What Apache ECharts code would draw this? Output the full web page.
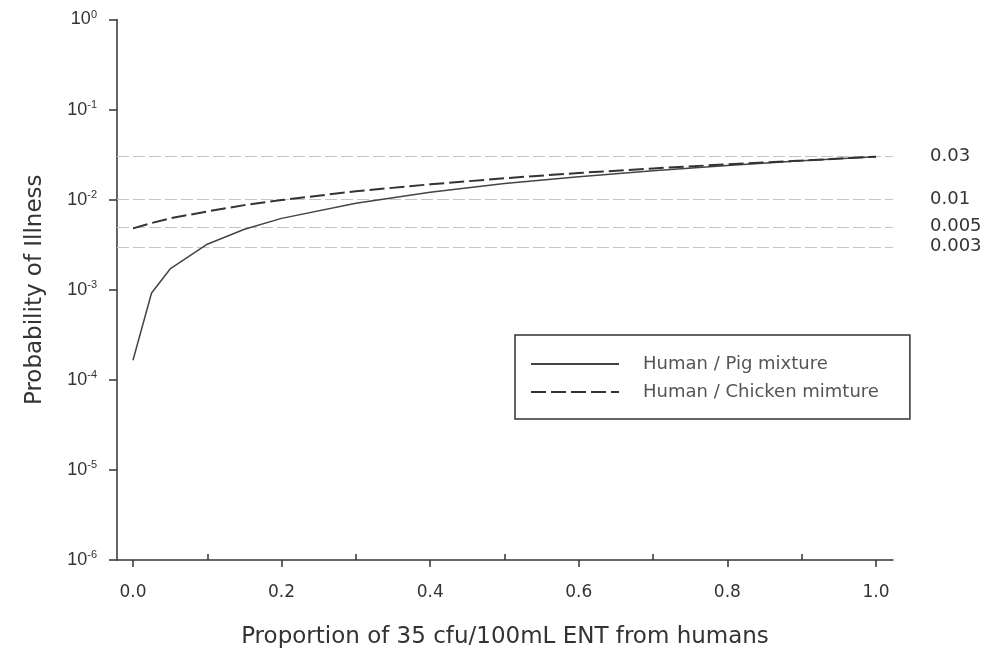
<!DOCTYPE html>
<html lang="en">

<head>
  <meta charset="UTF-8">
  <title>probability of illness</title>
  <script src="https://cdn.jsdelivr.net/npm/echarts@6.0.0/dist/echarts.min.js"></script>
  <style>
    html, body { margin: 0; padding: 0; background: #fff; }
    #chart { width: 989px; height: 651px; }
  </style>
</head>

<body>
  <div id="chart"></div>
  <script>
    // proportion of ENT from humans
    let props = [0, 0.025, 0.05, 0.1, 0.15, 0.2, 0.3, 0.4, 0.5, 0.6, 0.7, 0.8, 0.9, 1.0];
    let pigRisk = [0.000165, 0.00092, 0.0017, 0.0032, 0.0047, 0.0062, 0.0091, 0.0121, 0.0151, 0.018, 0.021, 0.024, 0.027, 0.030];
    let chickenRisk = [0.0048, 0.0055, 0.0062, 0.0074, 0.0087, 0.0099, 0.0124, 0.0148, 0.0173, 0.0198, 0.0222, 0.0247, 0.0272, 0.030];
    let refLevels = [0.03, 0.01, 0.005, 0.003];
    let xMajor = [0, 0.2, 0.4, 0.6, 0.8, 1.0];
    let xMinor = [0.1, 0.3, 0.5, 0.7, 0.9];
    let names = ['Human / Pig mixture', 'Human / Chicken mimture'];

    let font = 'Liberation Sans, Arial, sans-serif';
    let wide = 'DejaVu Sans, sans-serif';
    let ink = '#333';

    let chart = echarts.init(document.getElementById('chart'));
    let option = {
      animation: false,
      grid: { left: 117, right: 96, top: 19.5, bottom: 91, outerBoundsMode: 'none' },
      legend: {
        data: names,
        orient: 'vertical',
        left: 515,
        top: 335,
        padding: [20, 31, 18, 15],
        itemWidth: 88,
        itemHeight: 14,
        itemGap: 10,
        borderColor: ink,
        borderWidth: 1.5,
        itemStyle: { opacity: 0 },
        textStyle: { fontFamily: wide, fontSize: 18, color: '#555', padding: [0, 0, 0, 19] }
      },
      xAxis: [
        {
          type: 'value',
          min: -0.0215,
          max: 1.0229,
          name: 'Proportion of 35 cfu/100mL ENT from humans',
          nameLocation: 'middle',
          nameGap: 66,
          nameTextStyle: { fontFamily: wide, fontSize: 23, color: ink },
          axisLine: { show: true, onZero: false, lineStyle: { color: ink, width: 1.5 } },
          axisTick: { show: true, length: 7, customValues: xMajor, lineStyle: { color: ink, width: 1.5 } },
          axisLabel: {
            customValues: xMajor, margin: 24,
            fontFamily: wide, fontSize: 17, color: ink,
            formatter: v => v.toFixed(1)
          },
          splitLine: { show: false }
        },
        {
          type: 'value',
          min: -0.0215,
          max: 1.0229,
          position: 'bottom',
          axisLine: { show: false, onZero: false },
          axisTick: { show: true, inside: true, length: 6, customValues: xMinor, lineStyle: { color: ink, width: 1.5 } },
          axisLabel: { show: false },
          splitLine: { show: false }
        }
      ],
      yAxis: {
        type: 'log',
        logBase: 10,
        min: 1e-6,
        max: 1,
        interval: 1,
        name: 'Probability of Illness',
        nameLocation: 'middle',
        nameGap: 70,
        nameTextStyle: { fontFamily: wide, fontSize: 23, color: ink },
        axisLine: { show: true, onZero: false, lineStyle: { color: ink, width: 1.5 } },
        axisTick: { show: true, length: 8, lineStyle: { color: ink, width: 1.5 } },
        axisLabel: {
          margin: 20,
          formatter: v => '{b|10}{s|' + Math.round(Math.log10(v)) + '}',
          rich: {
            b: { fontFamily: font, fontSize: 18, color: ink },
            s: { fontFamily: font, fontSize: 11, color: ink, padding: [0, 0, 10, 0] }
          }
        },
        splitLine: { show: false }
      },
      series: [
        {
          type: 'line',
          name: names[0],
          z: 3,
          showSymbol: false,
          symbol: 'none',
          color: '#444',
          lineStyle: { color: '#444', width: 1.5 },
          data: props.map((p, i) => [p, pigRisk[i]]),
          markLine: {
            silent: true,
            precision: 4,
            symbol: ['none', 'none'],
            z: 1,
            lineStyle: { color: '#c4c4c4', type: [12, 4], width: 1.2 },
            label: {
              position: 'end',
              distance: 37,
              fontFamily: wide,
              fontSize: 18,
              color: ink,
              formatter: p => String(p.value)
            },
            data: refLevels.map(v => ({ yAxis: v }))
          }
        },
        {
          type: 'line',
          name: names[1],
          z: 3,
          showSymbol: false,
          symbol: 'none',
          color: '#333',
          lineStyle: { color: '#333', width: 2, type: [15, 5] },
          data: props.map((p, i) => [p, chickenRisk[i]])
        }
      ]
    };

    chart.setOption(option);
  </script>
</body>

</html>
